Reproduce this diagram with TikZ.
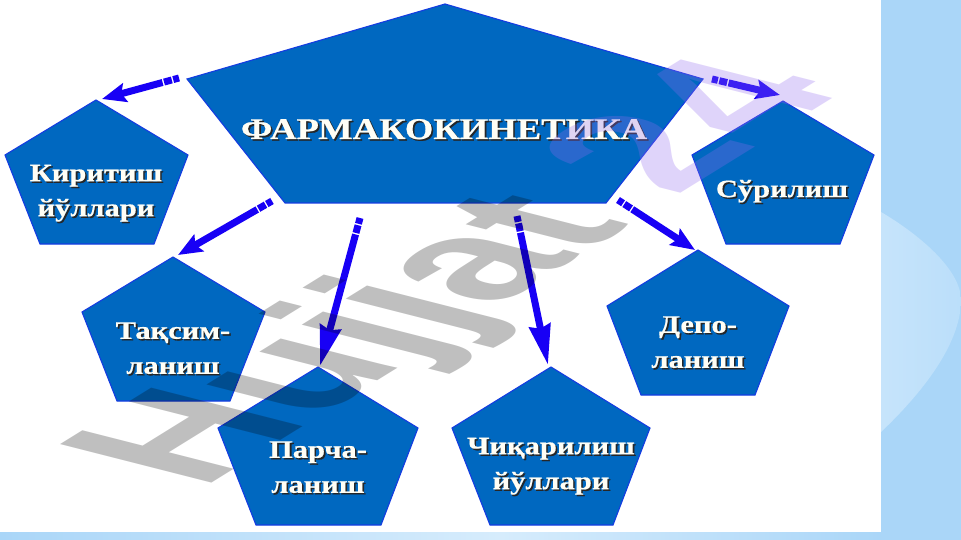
\documentclass[tikz,border=0pt]{standalone}
\usepackage{fontspec}
\usetikzlibrary{arrows.meta}
\newfontfamily\lab{Liberation Serif}[BoldFeatures={FakeStretch=1.22,FakeBold=0.6}]
\newfontfamily\wm{Liberation Sans}
\definecolor{pentfill}{RGB}{0,104,192}
\definecolor{pentline}{RGB}{20,60,225}
\definecolor{arrowblue}{RGB}{24,0,245}
\definecolor{bandblue}{RGB}{170,214,248}
\definecolor{bandlight}{RGB}{198,228,251}
\definecolor{bandpale}{RGB}{214,236,252}
\definecolor{lilac}{RGB}{148,107,238}
\newcommand{\stx}[1]{\leavevmode\rlap{\kern1.6pt\raisebox{-1.6pt}{\textcolor{black!85}{#1}}}\textcolor{white!96!yellow}{#1}}
\tikzset{
  pent/.style={fill=pentfill,draw=pentline,line width=1.1pt,line join=miter},
  plabel/.style={font=\lab\bfseries\fontsize{25}{35}\selectfont,align=center,inner sep=0pt},
  conn/.style={draw=arrowblue,line width=7pt,dash pattern=on 6pt off 1.5pt on 8pt off 1.5pt on 1000pt},
  tipa/.style={-{Stealth[length=24pt,width=19pt,inset=4pt,fill=arrowblue]}},
  tipb/.style={-{Stealth[length=40pt,width=21pt,inset=3pt,fill=arrowblue]}},
}
\begin{document}
\begin{tikzpicture}[x=1pt,y=-1pt]
\useasboundingbox (0,0) rectangle (961,540);
\fill[bandblue] (0,0) rectangle (961,540);
\begin{scope}
\clip (881,0) rectangle (961,540);
\shade[left color=bandlight,right color=bandblue!40!bandlight] (881,212) .. controls (920,235) and (961,270) .. (961,300) .. controls (961,345) and (920,395) .. (881,432) -- cycle;
\end{scope}
\shade[left color=bandblue,right color=bandpale] (0,532) rectangle (500,540);
\shade[left color=bandpale,right color=bandblue] (500,532) rectangle (881,540);
\fill[white] (0,0) rectangle (881,532);
% pentagons
\draw[pent] (445,4) coordinate (mainA) -- (703,79) -- (606,203) -- (285,203) -- (187,79) -- cycle;
\draw[pent] (96,100) coordinate (kirA) -- (188,155) -- (154,244) -- (40,244) -- (5,155) -- cycle;
\draw[pent] (783,101) coordinate (surA) -- (874,155) -- (840,244) -- (726,244) -- (692,155) -- cycle;
\draw[pent] (173,257) coordinate (taqA) -- (265,312) -- (230,401) -- (117,401) -- (82,312) -- cycle;
\draw[pent] (318,367) coordinate (parA) -- (418,428) -- (381,525) -- (256,525) -- (218,428) -- cycle;
\draw[pent] (551,367) coordinate (chiA) -- (650,428) -- (613,525) -- (490,525) -- (452,428) -- cycle;
\draw[pent] (698,250) coordinate (depA) -- (789,306) -- (755,395) -- (641,395) -- (607,306) -- cycle;
% labels
\node[plabel,font=\lab\bfseries\fontsize{30}{35}\selectfont] (main) at (444,130) {\stx{ФАРМАКОКИНЕТИКА}};
\node[plabel] (kir) at (96,194) {\stx{Киритиш}\\\stx{йўллари}};
\node[plabel] (sur) at (782,192) {\stx{Сўрилиш}};
\node[plabel] (taq) at (173,349) {\stx{Тақсим-}\\\stx{ланиш}};
\node[plabel] (par) at (318,468) {\stx{Парча-}\\\stx{ланиш}};
\node[plabel] (chi) at (551,467) {\stx{Чиқарилиш}\\\stx{йўллари}};
\node[plabel] (dep) at (698,343) {\stx{Депо-}\\\stx{ланиш}};
% arrows
\coordinate (s1) at (179,78); \coordinate (t1) at (102,99);
\coordinate (s2) at (712,79); \coordinate (t2) at (780,95);
\coordinate (s3) at (272,201); \coordinate (t3) at (178,255);
\coordinate (s4) at (360,218); \coordinate (t4) at (320,366);
\coordinate (s5) at (517,216); \coordinate (t5) at (548,365);
\coordinate (s6) at (618,200); \coordinate (t6) at (695,250);
\draw[conn,tipa] (s1) -- (t1);
\draw[conn,tipa] (s2) -- (t2);
\draw[conn,tipa] (s3) -- (t3);
\draw[conn,tipb] (s4) -- (t4);
\draw[conn,tipb] (s5) -- (t5);
\draw[conn,tipa] (s6) -- (t6);
% watermark
\begin{scope}[cm={1.55,0.96,-2.2,0.56,(201pt,-490pt)}]
\node[transform shape,anchor=base west,inner sep=0pt,font=\wm\bfseries\fontsize{100}{100}\selectfont] (wm) at (0pt,0pt)
  {\pgfsetfillopacity{0.25}\textcolor{black}{Hujjat}\kern28pt\pgfsetfillopacity{0.29}\textcolor{lilac}{24}};
\end{scope}
\end{tikzpicture}
\end{document}
